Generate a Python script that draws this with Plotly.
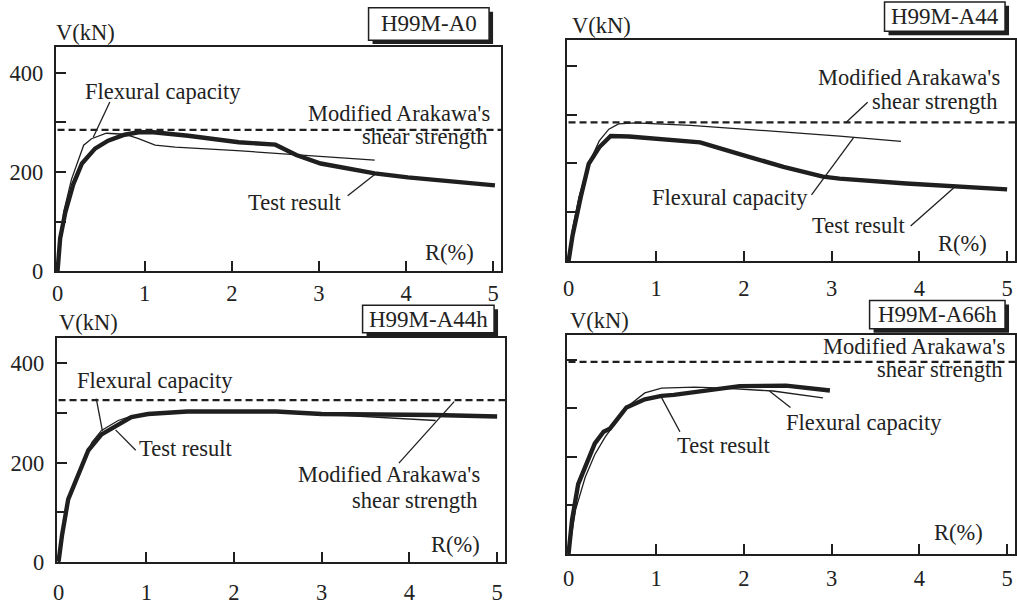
import plotly.graph_objects as go

W, H = 1017, 612

# ---------------- data ----------------
panel_titles = ["H99M-A0", "H99M-A44", "H99M-A44h", "H99M-A66h"]
x_tick_vals = [0, 1, 2, 3, 4, 5]
y_tick_vals = [0, 100, 200, 300, 400]
y_tick_text = ["0", "", "200", "", "400"]

# H99M-A0
a0_test_r = [0, 0.03, 0.09, 0.18, 0.28, 0.43, 0.58, 0.77, 0.93, 1.1, 1.5, 2.08, 2.5, 2.74, 3.02, 3.64, 4.02, 5.02]
a0_test_v = [0, 66, 119, 175, 217, 247, 263, 275, 280, 280, 273, 260, 255, 234, 217, 197, 189, 173]
a0_flex_r = [0, 0.07, 0.16, 0.3, 0.39, 0.56, 0.77, 0.93, 1.12, 1.35, 2.06, 2.82, 3.64]
a0_flex_v = [0, 119, 185, 254, 267, 278, 276, 267, 254, 250, 243, 234, 224]
a0_shear = 285

# H99M-A44
a44_test_r = [0, 0.045, 0.14, 0.23, 0.35, 0.48, 0.69, 1.0, 1.5, 1.95, 2.45, 2.9, 3.09, 3.85, 4.37, 5.0]
a44_test_v = [0, 52, 132, 199, 233, 256, 255, 250, 243, 219, 193, 173, 169, 159, 153, 147]
a44_flex_r = [0, 0.045, 0.12, 0.23, 0.35, 0.46, 0.57, 0.76, 1.39, 2.33, 3.09, 3.79]
a44_flex_v = [0, 66, 132, 199, 246, 270, 281, 283, 278, 266, 256, 245]
a44_shear = 284

# H99M-A44h
a44h_test_r = [0, 0.04, 0.11, 0.23, 0.34, 0.49, 0.68, 0.83, 1.02, 1.47, 2.48, 3.0, 4.29, 5.0]
a44h_test_v = [0, 54, 126, 179, 225, 257, 277, 292, 298, 303, 303, 298, 296, 293]
a44h_flex_r = [0, 0.04, 0.11, 0.23, 0.38, 0.49, 0.68, 0.83, 1.02, 1.47, 2.48, 3.0, 3.6, 4.3]
a44h_flex_v = [0, 54, 126, 179, 241, 265, 285, 294, 298, 303, 303, 298, 292, 285]
a44h_shear = 326

# H99M-A66h
a66h_test_r = [0, 0.04, 0.11, 0.21, 0.3, 0.4, 0.47, 0.53, 0.66, 0.87, 1.06, 1.2, 1.57, 1.95, 2.48, 2.98]
a66h_test_v = [0, 70, 144, 191, 228, 252, 258, 272, 302, 319, 326, 328, 336, 346, 347, 337]
a66h_flex_r = [0, 0.08, 0.19, 0.3, 0.42, 0.57, 0.68, 0.87, 1.06, 1.44, 1.76, 2.33, 2.9]
a66h_flex_v = [0, 91, 158, 205, 242, 279, 305, 332, 342, 344, 342, 336, 322]
a66h_shear = 396

# ---------------- styling / layout ----------------
INK = "#1f1f1f"
TXT = "#222222"
FONT = "Liberation Serif, Times New Roman, serif"
FS = 22.5

def px(x):
    return x / W

def py(y):
    return 1 - y / H

# plot boxes in pixels: (left, top, right, bottom)
boxes = [(52, 48, 499, 277), (565, 41, 1015, 267), (53, 345, 503, 574), (565, 342, 1015, 566)]
title_boxes = [(366, 8, 487, 41), (884, 2, 1005, 32), (360, 312, 492, 340), (869, 307, 1005, 336)]
vkn_pos = [(82, 33), (600, 26), (85, 330), (598, 327)]
x_standoff = [1, 6, 9, 3]

XR = [-0.02, 5.09]
YR = [0, 452]

panels = [
    (a0_test_r, a0_test_v, a0_flex_r, a0_flex_v, a0_shear),
    (a44_test_r, a44_test_v, a44_flex_r, a44_flex_v, a44_shear),
    (a44h_test_r, a44h_test_v, a44h_flex_r, a44h_flex_v, a44h_shear),
    (a66h_test_r, a66h_test_v, a66h_flex_r, a66h_flex_v, a66h_shear),
]

fig = go.Figure()
layout = dict(
    width=W, height=H, margin=dict(l=0, r=0, t=0, b=0),
    paper_bgcolor="white", plot_bgcolor="white", showlegend=False,
    font=dict(family=FONT, size=FS, color=TXT),
)
shapes = []
annotations = []

for i, (tr, tv, fr, fv, sh) in enumerate(panels):
    n = "" if i == 0 else str(i + 1)
    xa, ya = "x" + n, "y" + n
    l, t, r, b = boxes[i]
    layout["xaxis" + n] = dict(
        domain=[px(l), px(r)], range=XR, anchor=ya,
        tickvals=x_tick_vals, ticks="inside", ticklen=10, tickwidth=1.6, tickcolor=INK,
        showline=True, mirror=True, linewidth=2, linecolor=INK,
        showgrid=False, zeroline=False,
        tickfont=dict(family=FONT, size=FS, color=TXT),
        ticklabelstandoff=x_standoff[i],
    )
    layout["yaxis" + n] = dict(
        domain=[py(b), py(t)], range=YR, anchor=xa,
        tickvals=y_tick_vals, ticktext=y_tick_text, ticks="inside", ticklen=10,
        tickwidth=1.6, tickcolor=INK,
        showticklabels=(i in (0, 2)),
        showline=True, mirror=True, linewidth=2, linecolor=INK,
        showgrid=False, zeroline=False,
        tickfont=dict(family=FONT, size=FS, color=TXT),
        ticklabelstandoff=6,
    )
    # dashed shear strength
    fig.add_trace(go.Scatter(x=[0, XR[1]], y=[sh, sh], xaxis=xa, yaxis=ya, mode="lines",
                             line=dict(color=INK, width=2.3, dash="7px,4px"), hoverinfo="skip"))
    # flexural capacity (thin)
    fig.add_trace(go.Scatter(x=fr, y=fv, xaxis=xa, yaxis=ya, mode="lines",
                             line=dict(color=INK, width=1.3), hoverinfo="skip"))
    # test result (thick)
    fig.add_trace(go.Scatter(x=tr, y=tv, xaxis=xa, yaxis=ya, mode="lines",
                             line=dict(color=INK, width=4.4), hoverinfo="skip"))

    # title box with shadow
    tl, tt, trr, tb = title_boxes[i]
    shapes.append(dict(type="rect", xref="paper", yref="paper",
                       x0=px(tl + 4), x1=px(trr + 4), y0=py(tb + 4), y1=py(tt + 4),
                       fillcolor=INK, line=dict(width=0)))
    shapes.append(dict(type="rect", xref="paper", yref="paper",
                       x0=px(tl), x1=px(trr), y0=py(tb), y1=py(tt),
                       fillcolor="white", line=dict(color=INK, width=1.5)))
    annotations.append(dict(text=panel_titles[i], xref="paper", yref="paper",
                            x=px((tl + trr) / 2), y=py((tt + tb) / 2),
                            xanchor="center", yanchor="middle", showarrow=False,
                            font=dict(size=23, family=FONT, color=TXT)))
    # V(kN)
    vx, vy = vkn_pos[i]
    annotations.append(dict(text="V(kN)", xref="paper", yref="paper", x=px(vx), y=py(vy),
                            xanchor="center", yanchor="middle", showarrow=False))

# text labels (panel index, text, x, y, xanchor)
labels = [
    (0, "Flexural capacity", 1.21, 363, "center"),
    (0, "Modified Arakawa's", 4.99, 318, "right"),
    (0, "shear strength", 4.96, 272, "right"),
    (0, "Test result", 2.73, 138, "center"),
    (0, "R(%)", 4.5, 37, "center"),
    (1, "Modified Arakawa's", 4.94, 375, "right"),
    (1, "shear strength", 4.92, 327, "right"),
    (1, "Flexural capacity", 1.84, 130, "center"),
    (1, "Test result", 3.31, 74, "center"),
    (1, "R(%)", 4.49, 36, "center"),
    (2, "Flexural capacity", 1.1, 365, "center"),
    (2, "Test result", 1.45, 229, "center"),
    (2, "Modified Arakawa's", 4.83, 177, "right"),
    (2, "shear strength", 4.81, 124, "right"),
    (2, "R(%)", 4.53, 35, "center"),
    (3, "Modified Arakawa's", 5.0, 427, "right"),
    (3, "shear strength", 4.98, 380, "right"),
    (3, "Flexural capacity", 3.37, 272, "center"),
    (3, "Test result", 1.77, 223, "center"),
    (3, "R(%)", 4.45, 44, "center"),
]
for (i, txt, x, y, xanc) in labels:
    n = "" if i == 0 else str(i + 1)
    annotations.append(dict(text=txt, xref="x" + n, yref="y" + n, x=x, y=y,
                            xanchor=xanc, yanchor="middle", showarrow=False,
                            bgcolor="rgba(0,0,0,0)"))

# leader lines (panel index, x0, y0, x1, y1)
leaders = [
    (0, 0.6, 341, 0.41, 270),
    (0, 3.33, 152, 3.64, 195),
    (1, 3.41, 325, 3.16, 283),
    (1, 2.77, 136, 3.25, 253),
    (1, 3.9, 72, 4.39, 150),
    (2, 0.43, 329, 0.5, 264),
    (2, 0.88, 225, 0.65, 266),
    (2, 3.88, 199, 4.51, 323),
    (3, 2.53, 302, 2.29, 336),
    (3, 1.27, 252, 1.05, 326),
]
for (i, x0, y0, x1, y1) in leaders:
    n = "" if i == 0 else str(i + 1)
    shapes.append(dict(type="line", xref="x" + n, yref="y" + n, x0=x0, y0=y0, x1=x1, y1=y1,
                       line=dict(color=INK, width=1.3)))

layout["shapes"] = shapes
layout["annotations"] = annotations
fig.update_layout(**layout)
fig.write_html("out.html")
